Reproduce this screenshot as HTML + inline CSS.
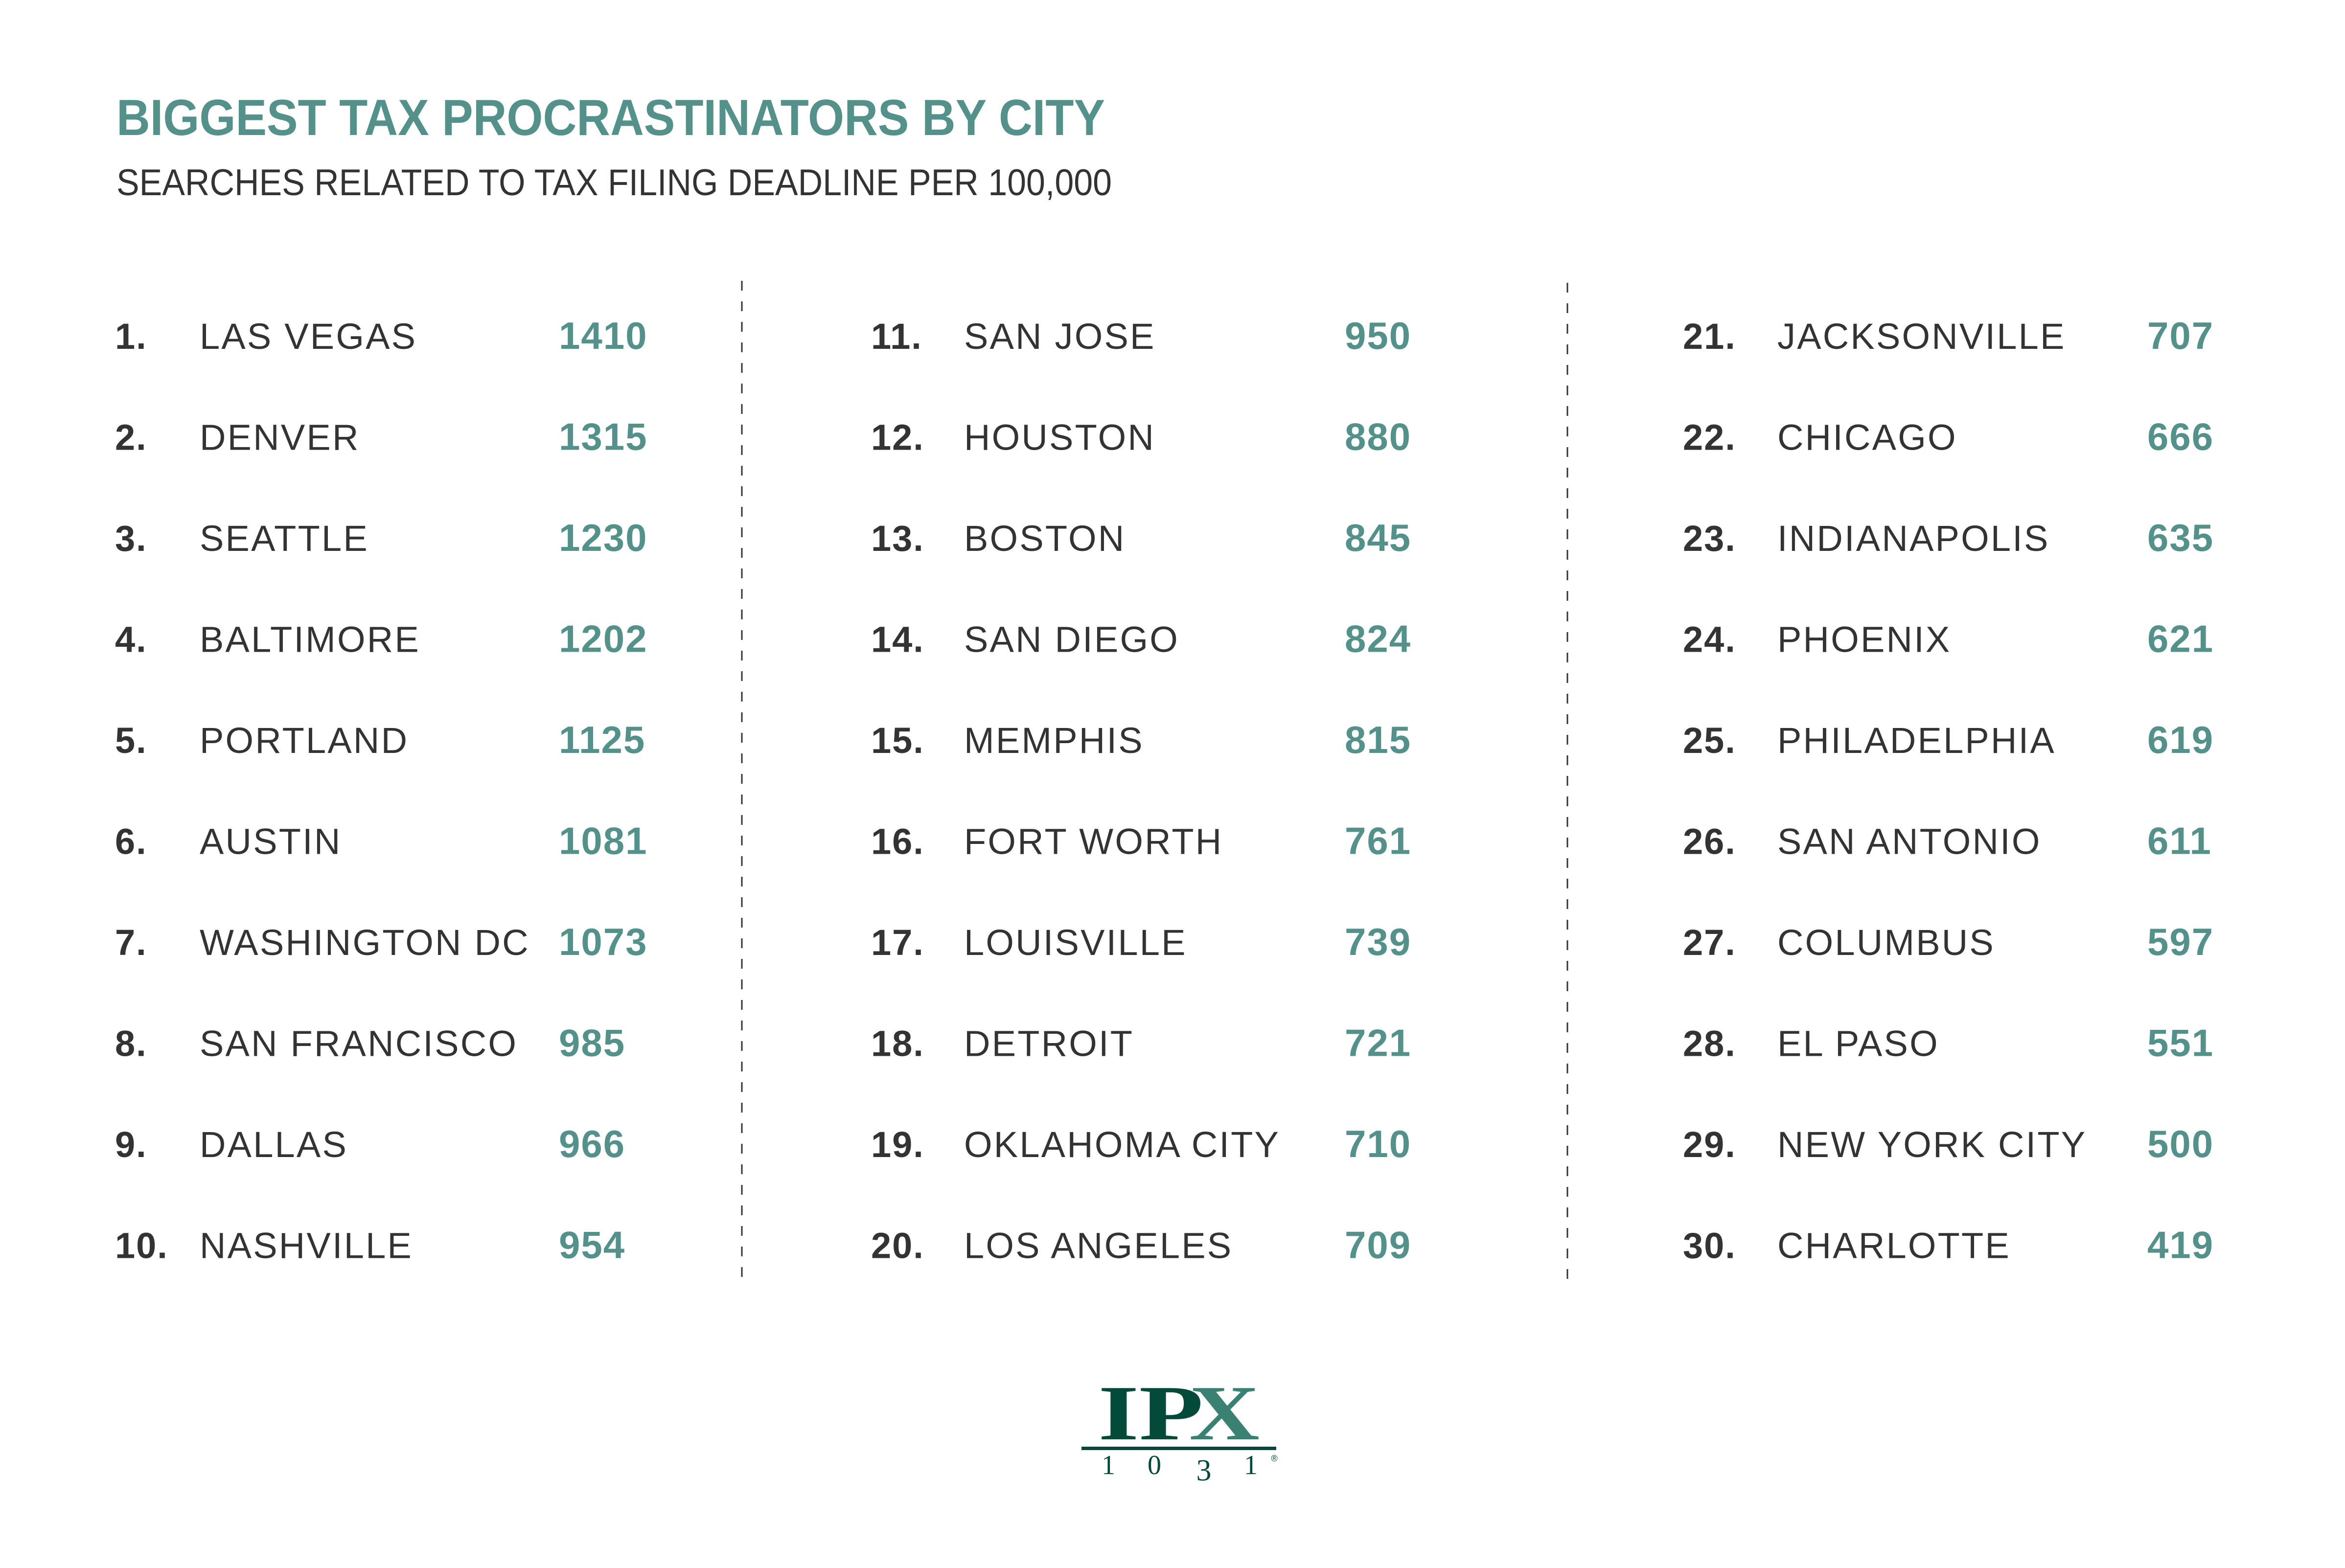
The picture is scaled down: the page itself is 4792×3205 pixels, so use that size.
<!DOCTYPE html>
<html><head><meta charset="utf-8"><style>
html,body{margin:0;padding:0;background:#fff;}
svg{display:block;}
</style></head><body>
<svg id="chart" width="4792" height="3205" viewBox="0 0 4792 3205" xmlns="http://www.w3.org/2000/svg">
<rect width="4792" height="3205" fill="#fff"/>
<text x="238" y="276" font-family="Liberation Sans, sans-serif" font-weight="bold" font-size="104" fill="#54918a" textLength="2020" lengthAdjust="spacingAndGlyphs">BIGGEST TAX PROCRASTINATORS BY CITY</text>
<text x="238" y="399" font-family="Liberation Sans, sans-serif" font-size="76" fill="#333" textLength="2034" lengthAdjust="spacingAndGlyphs">SEARCHES RELATED TO TAX FILING DEADLINE PER 100,000</text>
<g id="rows"></g>
<line x1="1516" y1="574" x2="1516" y2="2632" stroke="#333" stroke-width="3" stroke-dasharray="20 22"/>
<line x1="3203" y1="578" x2="3203" y2="2636" stroke="#333" stroke-width="3" stroke-dasharray="20 22"/>
<g>
<text x="2244" y="2942" font-family="Liberation Serif, serif" font-weight="bold" font-size="160" fill="#034a3a" textLength="215" lengthAdjust="spacingAndGlyphs">IP</text>
<text x="2430" y="2942" font-family="Liberation Serif, serif" font-weight="bold" font-size="160" fill="#3a8073" textLength="144" lengthAdjust="spacingAndGlyphs">X</text>
<rect x="2210" y="2957" width="398" height="7" fill="#034a3a"/>
<text x="2265" y="3013" text-anchor="middle" font-family="Liberation Serif, serif" font-size="56" fill="#034a3a">1</text>
<text x="2359" y="3013" text-anchor="middle" font-family="Liberation Serif, serif" font-size="56" fill="#034a3a">0</text>
<text x="2460" y="3026" text-anchor="middle" font-family="Liberation Serif, serif" font-size="62" fill="#034a3a">3</text>
<text x="2556" y="3013" text-anchor="middle" font-family="Liberation Serif, serif" font-size="56" fill="#034a3a">1</text>
<text x="2604" y="2987" text-anchor="middle" font-family="Liberation Sans, sans-serif" font-size="18" fill="#034a3a">®</text>
</g>
</svg>
<script>
const ranks = [1,2,3,4,5,6,7,8,9,10,11,12,13,14,15,16,17,18,19,20,21,22,23,24,25,26,27,28,29,30];
const cities = ["LAS VEGAS","DENVER","SEATTLE","BALTIMORE","PORTLAND","AUSTIN","WASHINGTON DC","SAN FRANCISCO","DALLAS","NASHVILLE",
"SAN JOSE","HOUSTON","BOSTON","SAN DIEGO","MEMPHIS","FORT WORTH","LOUISVILLE","DETROIT","OKLAHOMA CITY","LOS ANGELES",
"JACKSONVILLE","CHICAGO","INDIANAPOLIS","PHOENIX","PHILADELPHIA","SAN ANTONIO","COLUMBUS","EL PASO","NEW YORK CITY","CHARLOTTE"];
const searches = [1410,1315,1230,1202,1125,1081,1073,985,966,954,950,880,845,824,815,761,739,721,710,709,707,666,635,621,619,611,597,551,500,419];

const colRankX = [235, 1780, 3439];
const colCityX = [408, 1970, 3632];
const colValX = [1142, 2748, 4388];
const rowY0 = 713, rowStep = 206.5;
const NS = "http://www.w3.org/2000/svg";
const g = document.getElementById('rows');
function mk(x, y, txt, size, weight, fill, ls) {
  const t = document.createElementNS(NS, 'text');
  t.setAttribute('x', x); t.setAttribute('y', y);
  t.setAttribute('font-family', 'Liberation Sans, sans-serif');
  t.setAttribute('font-size', size);
  t.setAttribute('font-weight', weight);
  t.setAttribute('fill', fill);
  t.setAttribute('letter-spacing', ls);
  t.textContent = txt;
  g.appendChild(t);
  return t;
}
for (let i = 0; i < ranks.length; i++) {
  const c = Math.floor(i / 10), r = i % 10;
  const y = rowY0 + r * rowStep;
  const a = mk(colRankX[c], y, ranks[i] + '.', 74, 'bold', '#333', 2);
  
  
  const b = mk(colCityX[c], y, cities[i], 74, 'normal', '#333', 3.2);
  
  
  const v = mk(colValX[c], y, String(searches[i]), 78, 'bold', '#54918a', 2);
  
  
}
</script>
</body></html>
